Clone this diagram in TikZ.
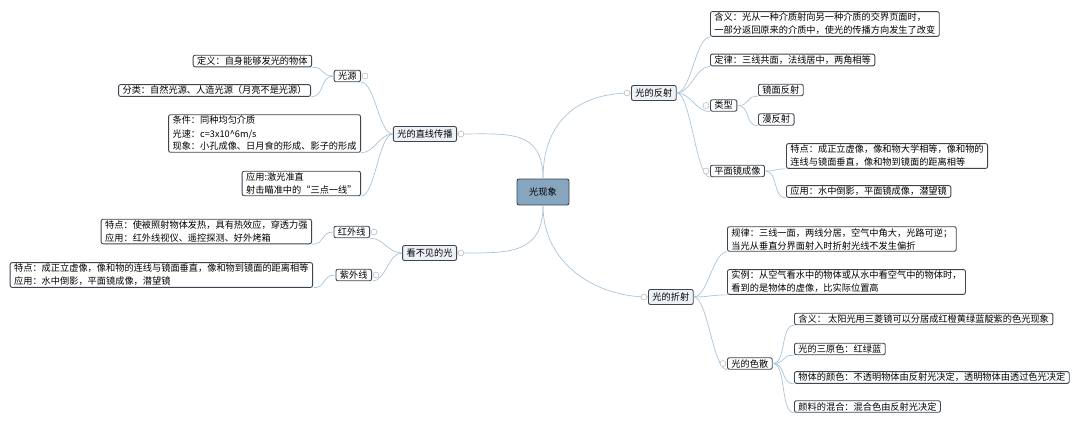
\documentclass[tikz,border=0pt]{standalone}
\usepackage{fontspec}
\setmainfont{Noto Sans CJK SC}
\definecolor{edgeblue}{HTML}{A9C4D9}
\definecolor{boxline}{HTML}{3C4650}
\definecolor{mainfill}{HTML}{EEF2F6}
\definecolor{rootfill}{HTML}{86A5BF}
\tikzset{
  leaf/.style={draw=boxline, line width=0.9pt, rounded corners=2pt, fill=white,
    inner xsep=4pt, inner ysep=1.5pt, align=left, font=\fontsize{9.2}{13}\selectfont},
  branch/.style={leaf, fill=mainfill, minimum height=15pt},
  root/.style={leaf, fill=rootfill, minimum width=52pt, minimum height=26pt, align=center},
  link/.style={draw=edgeblue, line width=0.7pt},
  knob/.style={circle, draw=gray!70, fill=white, inner sep=0pt, minimum size=6pt}
}
\newcommand{\LinkR}[2]{\draw[link] (#1.east) .. controls +(14,0) and +(-14,0) .. (#2.south west);}
\newcommand{\LinkL}[2]{\draw[link] (#1.west) .. controls +(-14,0) and +(14,0) .. (#2.south east);}

\begin{document}
\begin{tikzpicture}[x=1pt,y=-1pt]
\useasboundingbox (0,0) rectangle (1080,426);

\node[root] (R) at (543,192) {光现象};

% left half
\node[branch, anchor=east] (zx) at (457,134) {光的直线传播};
\node[branch, anchor=east] (kbj) at (457,253) {看不见的光};

\node[leaf, anchor=east] (gy) at (361,76) {光源};
\node[leaf, anchor=east] (dy) at (312,61) {定义：自身能够发光的物体};
\node[leaf, anchor=east] (fl) at (311,90.5) {分类：自然光源、人造光源（月亮不是光源）};
\node[leaf, anchor=east] (tj) at (361,133.5) {条件：同种均匀介质\\光速：c=3x10\^{}6m/s\\现象：小孔成像、日月食的形成、影子的形成};
\node[leaf, anchor=east] (yy) at (361,183.5) {应用:激光准直\\射击瞄准中的“三点一线”};

\node[leaf, anchor=east] (hwx) at (370,232) {红外线};
\node[leaf, anchor=east] (zwx) at (372,275) {紫外线};
\node[leaf, anchor=east] (hwd) at (312,231.5) {特点：使被照射物体发热，具有热效应，穿透力强\\应用：红外线视仪、遥控探测、好外烤箱};
\node[leaf, anchor=east] (zwd) at (313,275) {特点：成正立虚像，像和物的连线与镜面垂直，像和物到镜面的距离相等\\应用：水中倒影，平面镜成像，潜望镜};

% right half
\node[branch, anchor=west] (fs) at (631,93) {光的反射};
\node[branch, anchor=west] (zs) at (648,297) {光的折射};

\node[leaf, anchor=west] (hy) at (710,24) {含义：光从一种介质射向另一种介质的交界页面时，\\一部分返回原来的介质中，使光的传播方向发生了改变};
\node[leaf, anchor=west] (dl) at (710,60) {定律：三线共面，法线居中，两角相等};
\node[leaf, anchor=west] (lx) at (710,105.5) {类型};
\node[leaf, anchor=west] (jm) at (758,90) {镜面反射};
\node[leaf, anchor=west] (mf) at (758,119.5) {漫反射};
\node[leaf, anchor=west] (pm) at (710,171) {平面镜成像};
\node[leaf, anchor=west] (pmt) at (786,156) {特点：成正立虚像，像和物大学相等，像和物的\\连线与镜面垂直，像和物到镜面的距离相等};
\node[leaf, anchor=west] (pmy) at (786,191.5) {应用：水中倒影，平面镜成像，潜望镜};

\node[leaf, anchor=west] (gl) at (727,239) {规律：三线一面，两线分居，空气中角大，光路可逆；\\当光从垂直分界面射入时折射光线不发生偏折};
\node[leaf, anchor=west] (sl) at (727,282) {实例：从空气看水中的物体或从水中看空气中的物体时，\\看到的是物体的虚像，比实际位置高};
\node[leaf, anchor=west] (ss) at (727,363.5) {光的色散};
\node[leaf, anchor=west] (sh) at (794,319) {含义： 太阳光用三菱镜可以分居成红橙黄绿蓝靛紫的色光现象};
\node[leaf, anchor=west] (sy) at (794,349) {光的三原色：红绿蓝};
\node[leaf, anchor=west] (wt) at (794,377.5) {物体的颜色：不透明物体由反射光决定，透明物体由透过色光决定};
\node[leaf, anchor=west] (yl) at (794,406.5) {颜料的混合：混合色由反射光决定};

% root links
\draw[link] (R.north) .. controls +(0,-60) and +(-50,0) .. (fs.west);
\draw[link] (R.south) .. controls +(0,60) and +(-50,0) .. (zs.west);
\draw[link] (R.north) .. controls +(0,-50) and +(50,0) .. (zx.east);
\draw[link] (R.south) .. controls +(0,50) and +(50,0) .. (kbj.east);

% branch links
\foreach \c in {gy,tj,yy} {\LinkL{zx}{\c}}
\foreach \c in {dy,fl} {\LinkL{gy}{\c}}
\foreach \c in {hwx,zwx} {\LinkL{kbj}{\c}}
\LinkL{hwx}{hwd}
\LinkL{zwx}{zwd}
\foreach \c in {hy,dl,lx,pm} {\LinkR{fs}{\c}}
\foreach \c in {jm,mf} {\LinkR{lx}{\c}}
\foreach \c in {pmt,pmy} {\LinkR{pm}{\c}}
\foreach \c in {gl,sl,ss} {\LinkR{zs}{\c}}
\foreach \c in {sh,sy,wt,yl} {\LinkR{ss}{\c}}

% collapse knobs
\foreach \n in {zx,kbj,gy,hwx,zwx} {\node[knob] at ([xshift=4pt]\n.east) {};}
\foreach \n in {fs,zs,lx,pm,ss} {\node[knob] at ([xshift=-4pt]\n.west) {};}
\end{tikzpicture}
\end{document}
